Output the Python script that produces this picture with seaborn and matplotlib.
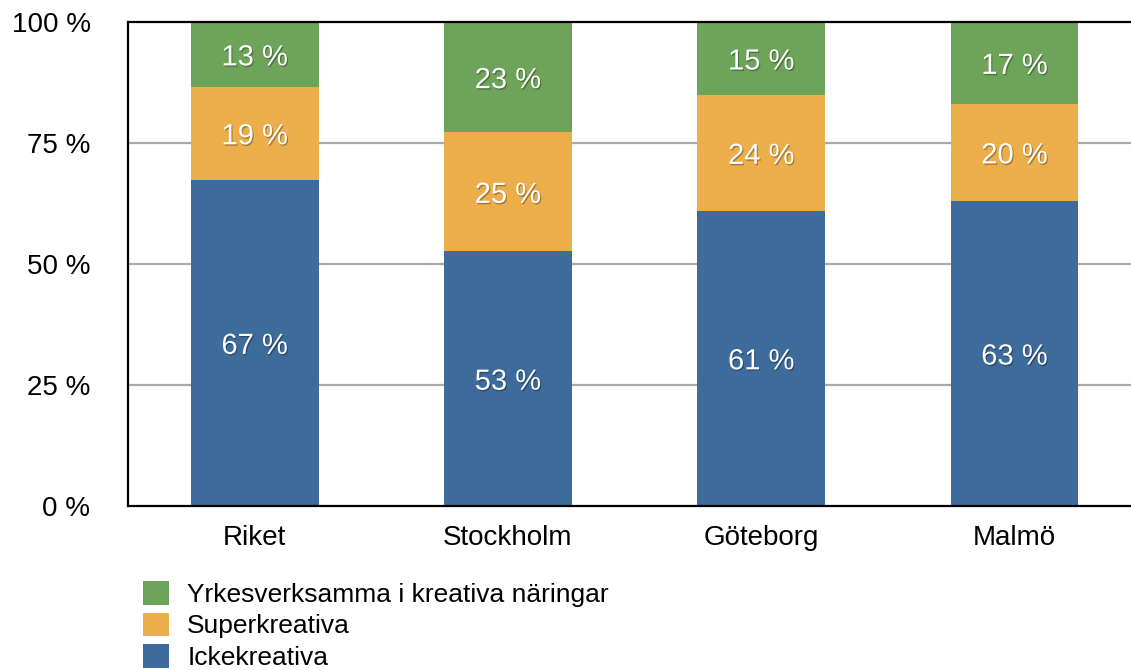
import matplotlib
matplotlib.use("Agg")
import matplotlib.pyplot as plt
import matplotlib.patheffects as pe
from matplotlib.patches import Patch
import pandas as pd
import seaborn as sns

# data (andel per region, procent)
regioner = ["Riket", "Stockholm", "Göteborg", "Malmö"]
ickekreativa = [67.4, 52.6, 61.0, 63.0]
superkreativa = [19.2, 24.6, 23.9, 20.1]
yrkesverksamma = [13.4, 22.8, 15.1, 16.9]

serier = ["Yrkesverksamma i kreativa näringar", "Superkreativa", "Ickekreativa"]
farger = {"Ickekreativa": "#3d6b9b", "Superkreativa": "#ebae4b", "Yrkesverksamma i kreativa näringar": "#6da45a"}

df = pd.DataFrame({
    "region": regioner,
    "Ickekreativa": ickekreativa,
    "Superkreativa": superkreativa,
    "Yrkesverksamma i kreativa näringar": yrkesverksamma,
})
df["topp_ick"] = df["Ickekreativa"]
df["topp_sup"] = df["Ickekreativa"] + df["Superkreativa"]
df["topp_yrk"] = df["topp_sup"] + df["Yrkesverksamma i kreativa näringar"]

sns.set_style("white")
plt.rcParams["font.family"] = ["Liberation Sans", "DejaVu Sans"]
plt.rcParams["text.color"] = "black"
plt.rcParams["xtick.color"] = "black"
plt.rcParams["ytick.color"] = "black"

fig = plt.figure(figsize=(11.31, 6.70), dpi=100)
ax = fig.add_axes([128 / 1131, 1 - 506 / 670, 1 - 128 / 1131, (506 - 22) / 670])

# staplade staplar: ritar kumulativa höjder bakifrån
for kol, serie, z in [("topp_yrk", "Yrkesverksamma i kreativa näringar", 2),
                      ("topp_sup", "Superkreativa", 3),
                      ("topp_ick", "Ickekreativa", 4)]:
    sns.barplot(data=df, x="region", y=kol, color=farger[serie], width=0.505,
                saturation=1, linewidth=0, ax=ax, zorder=z)

# etiketter mitt i varje segment
skugga = [pe.withSimplePatchShadow(offset=(0.8, -1.0), shadow_rgbFace="black", alpha=0.3)]
for i, rad in df.iterrows():
    segment = [
        (0, rad["Ickekreativa"]),
        (rad["topp_ick"], rad["Superkreativa"]),
        (rad["topp_sup"], rad["Yrkesverksamma i kreativa näringar"]),
    ]
    for botten, hojd in segment:
        ax.text(i, botten + hojd / 2, f"{round(hojd)} %", ha="center", va="center_baseline",
                color="white", fontsize=21, zorder=6, path_effects=skugga)

ax.set_ylim(0, 100)
ax.set_xlim(-0.5, 3.46)
ax.set_yticks([0, 25, 50, 75, 100])
ax.set_yticklabels(["0 %", "25 %", "50 %", "75 %", "100 %"])
ax.tick_params(axis="y", length=0, pad=27, labelsize=20)
ax.tick_params(axis="x", length=0, pad=14, labelsize=20)
ax.set_xlabel("")
ax.set_ylabel("")

for y in [25, 50, 75]:
    ax.axhline(y, color="#aaaaaa", lw=1.6, zorder=1)

for s in ["left", "bottom", "top"]:
    ax.spines[s].set_color("black")
    ax.spines[s].set_linewidth(1.6)
    ax.spines[s].set_zorder(5)
ax.spines["right"].set_visible(False)

handtag = [Patch(facecolor=farger[s], edgecolor="none", label=s) for s in serier]
fig.legend(handles=handtag, loc="upper left", bbox_to_anchor=(143 / 1131, 1 - 581 / 670),
           frameon=False, fontsize=19, handlelength=1.0, handleheight=1.0,
           handletextpad=0.68, labelspacing=0.22, borderpad=0, borderaxespad=0,
           labelcolor="black")

fig.savefig("out.png", dpi=100)
